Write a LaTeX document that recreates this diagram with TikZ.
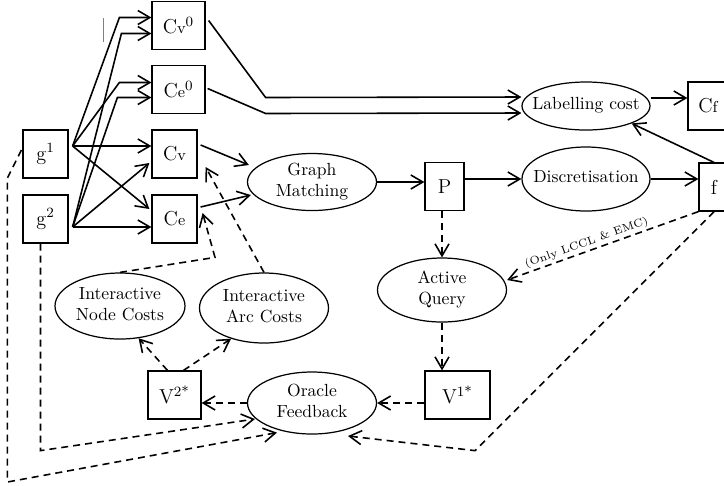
\documentclass[tikz,border=0pt]{standalone}
\usetikzlibrary{arrows.meta,shapes.geometric,calc}
\tikzset{
  bx/.style={draw, line width=0.7pt, minimum height=9.6mm, inner sep=0pt, font=\fontsize{11.5pt}{13pt}\selectfont},
  ell/.style={draw, ellipse, line width=0.7pt, inner sep=0pt},
  arr/.style={-{Straight Barb[length=2.4mm,width=2.8mm]}, line width=0.9pt},
  darr/.style={arr, dash pattern=on 1.4mm off 1mm},
  lbl/.style={font=\fontsize{6.3pt}{7pt}\selectfont, inner sep=1pt}
}
% small letter after a capital, and text that does not grow its ellipse
\newcommand{\lo}[1]{{\small #1}}
\newcommand{\tx}[1]{\makebox[0pt]{\raisebox{-0.5ex}[0pt][0pt]{\begin{tabular}{@{}c@{}}#1\end{tabular}}}}

\begin{document}
\begin{tikzpicture}[x=0.2mm, y=-0.2mm]
  \useasboundingbox (0,0) rectangle (724,485);
  \clip (0,0) rectangle (724,485);
  % graphs and cost boxes
  \node[bx, minimum width=9mm] (g1) at (45.5,154) {g\textsuperscript{1}};
  \node[bx, minimum width=9mm] (g2) at (45.5,219) {g\textsuperscript{2}};
  \node[bx, minimum width=10.6mm] (cv0) at (178.5,25.5) {C\lo{v}\textsuperscript{0}};
  \node[bx, minimum width=10.6mm] (ce0) at (178.5,89.5) {C\lo{e}\textsuperscript{0}};
  \node[bx, minimum width=9mm] (cv) at (174.5,154) {C\lo{v}};
  \node[bx, minimum width=9mm] (ce) at (174.5,219) {C\lo{e}};
  \node[bx, minimum width=7.8mm] (p) at (444.5,186.5) {P};
  \node[bx, minimum width=6mm] (f) at (714,187) {f};
  \node[bx, minimum width=8mm] (cf) at (708,106) {C\lo{f}};
  \node[bx, minimum width=13mm] (v1) at (457.5,395) {V\textsuperscript{1*}};
  \node[bx, minimum width=10.6mm] (v2) at (174.5,395) {V\textsuperscript{2*}};
  % processes
  \node[ell, minimum width=25.8mm, minimum height=11.4mm] (gm) at (312,182) {\tx{Graph\\Matching}};
  \node[ell, minimum width=25.6mm, minimum height=12.8mm] (disc) at (586,179) {\tx{Discretisation}};
  \node[ell, minimum width=25.6mm, minimum height=9.6mm] (lc) at (586,106) {\tx{Labelling cost}};
  \node[ell, minimum width=25.8mm, minimum height=12.8mm] (aq) at (442,290) {\tx{Active\\Query}};
  \node[ell, minimum width=25.8mm, minimum height=12.4mm] (of) at (312,403) {\tx{Oracle\\Feedback}};
  \node[ell, minimum width=26mm, minimum height=13.2mm] (inc) at (120,306) {\tx{Interactive\\Node Costs}};
  \node[ell, minimum width=25.8mm, minimum height=14mm] (iac) at (264,308) {\tx{Interactive\\Arc Costs}};

  \draw[gray, thin] (103,18) -- (103,42);

  % graphs to costs
  \coordinate (g1o) at ($(g1.east)+(4,-8)$);
  \coordinate (g2o) at ($(g2.east)+(4,8)$);
  \foreach \s/\t/\dy/\bx in {g1o/cv0/-8/-32, g2o/cv0/8/-30, g1o/ce0/-7/-32, g2o/ce0/8/-34}
    \draw[arr] (\s) -- ($(\t.west)+(\bx,\dy)$) -- ($(\t.west)+(0,\dy)$);
  \draw[arr] (g1o) -- (g1o -| cv.west);
  \draw[arr] (g1o) -- ($(ce.west)+(-2,-10)$);
  \draw[arr] (g2o) -- ($(cv.west)+(-2,9)$);
  \draw[arr] (g2o) -- (g2o -| ce.west);

  % main chain
  \draw[arr] ($(cv0.east)+(3,-5)$) -- ++(57,77) -- ($(lc.west)+(0,-9)$);
  \draw[arr] ($(ce0.east)+(2,-1)$) -- ++(58,25) -- ($(lc.west)+(0,7)$);
  \draw[arr] ($(lc.east)+(0,-8)$) -- ($(cf.west)+(0,-8)$);
  \draw[arr] (f.north) -- (lc.south east);
  \draw[arr] ($(cv.east)+(3,-9)$) -- ($(gm.west)+(2,-17)$);
  \draw[arr] ($(ce.east)+(3,-12)$) -- ($(gm.west)+(4,13)$);
  \draw[arr] (gm.east) -- (gm.east -| p.west);
  \draw[arr] (disc.west -| p.east) -- (disc.west);
  \draw[arr] (disc.east) -- (disc.east -| f.west);

  % interaction loop
  \draw[darr] (p.south -| aq.north) -- (aq.north);
  \draw[darr] (f.south west) -- node[lbl, sloped, above, pos=0.57] {(Only LCCL \& EMC)} ($(aq.east)+(0,-10)$);
  \draw[darr] (aq.south) -- (aq.south |- v1.north);
  \draw[darr] (v1.west |- of.east) -- (of.east);
  \draw[darr] (of.west) -- (of.west -| v2.east);
  \draw[darr] ($(v2.north)+(-7,0)$) -- (inc.-60);
  \draw[darr] ($(v2.north)+(9,0)$) -- (iac.-137);
  \draw[darr] (inc.north) -- ++(95,-15) -- ($(ce.east)+(5,-6)$);
  \draw[darr] (iac.north) -- ($(cv.east)+(8,13)$);
  \draw[darr] ($(g1.west)+(-1,-4)$) -- ++(-14,28) -- ++(0,304) -- ($(of.south)+(-35,-2)$);
  \draw[darr] ($(g2.south)+(-5,0)$) -- ++(0,207) -- ($(of.center)+(-57,16)$);
  \draw[darr] (f.south) -- ++(-239,239) -- ($(of.center)+(36,33)$);
\end{tikzpicture}
\end{document}
